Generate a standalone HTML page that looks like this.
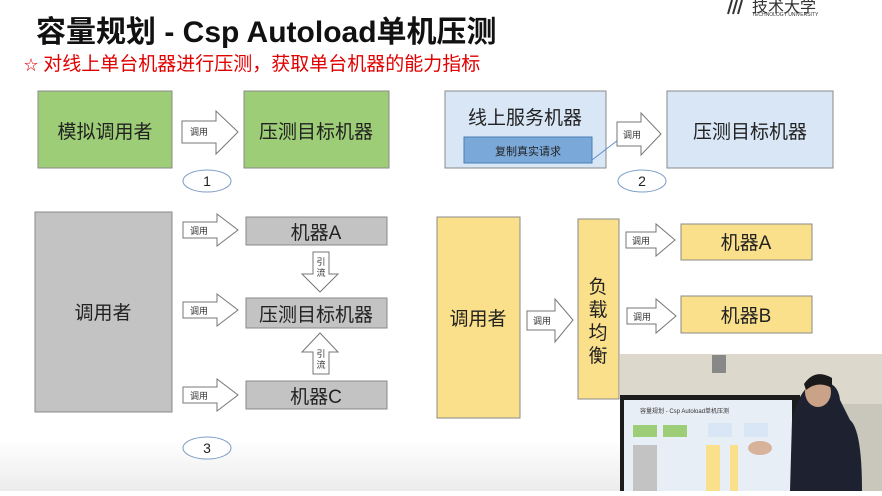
<!DOCTYPE html>
<html><head><meta charset="utf-8"><style>
body{margin:0;width:882px;height:491px;overflow:hidden;background:#fff;font-family:"Liberation Sans","Noto Sans CJK SC",sans-serif}
</style></head><body>
<svg width="882" height="491" viewBox="0 0 882 491" xmlns="http://www.w3.org/2000/svg" font-family="Liberation Sans, Noto Sans CJK SC, sans-serif">
<defs><linearGradient id="bg" x1="0" y1="0" x2="0" y2="1"><stop offset="0" stop-color="#fff"/><stop offset="1" stop-color="#ececec"/></linearGradient></defs>
<rect x="0" y="440" width="882" height="51" fill="url(#bg)"/>
<text x="36" y="42" font-size="30" font-weight="bold" fill="#111">容量规划 - Csp Autoload单机压测</text>
<text x="24" y="70" font-size="19" fill="#e00000"><tspan font-size="14">☆</tspan> 对线上单台机器进行压测，获取单台机器的能力指标</text>
<text x="752" y="12" font-size="16" fill="#333">技术大学</text>
<path d="M732 0 L728 14 M737 0 L733 14 M742 0 L738 14" stroke="#333" stroke-width="2"/>
<text x="752" y="16" font-size="5" fill="#333">TECHNOLOGY UNIVERSITY</text>

<g stroke="#8a8a8a" stroke-width="1">
<rect x="38" y="91" width="134" height="77" fill="#9dcd76"/>
<rect x="244" y="91" width="145" height="77" fill="#9dcd76"/>
<rect x="445" y="91" width="161" height="77" fill="#d9e6f5"/>
<rect x="464" y="137" width="128" height="26" fill="#7aa8d8" stroke="#4b7fb5"/>
<rect x="667" y="91" width="166" height="77" fill="#d9e6f5"/>
<rect x="35" y="212" width="137" height="200" fill="#c3c3c3"/>
<rect x="246" y="217" width="141" height="28" fill="#c3c3c3"/>
<rect x="246" y="298" width="141" height="30" fill="#c3c3c3"/>
<rect x="246" y="381" width="141" height="28" fill="#c3c3c3"/>
<rect x="437" y="217" width="83" height="201" fill="#fbe08b"/>
<rect x="578" y="219" width="41" height="180" fill="#fbe08b"/>
<rect x="681" y="224" width="131" height="36" fill="#fbe08b"/>
<rect x="681" y="296" width="131" height="37" fill="#fbe08b"/>
</g>
<line x1="592" y1="160" x2="618" y2="140" stroke="#5b8fd0" stroke-width="1"/>

<g fill="#fff" stroke="#777" stroke-width="1">
<polygon points="182,121 216,121 216,111 238,132 216,154 216,143 182,143"/>
<polygon points="617,122 641,122 641,113 661,134 641,155 641,146 617,146"/>
<polygon points="183,222 217,222 217,214 238,230 217,246 217,238 183,238"/>
<polygon points="183,302 217,302 217,294 238,310 217,326 217,318 183,318"/>
<polygon points="183,387 217,387 217,379 238,395 217,411 217,403 183,403"/>
<polygon points="527,311 555,311 555,299 573,320 555,342 555,330 527,330"/>
<polygon points="626,232 656,232 656,224 675,240 656,256 656,248 626,248"/>
<polygon points="627,308 656,308 656,299 676,316 656,333 656,324 627,324"/>
<polygon points="313,252 329,252 329,274 338,274 320,292 302,274 313,274"/>
<polygon points="313,374 329,374 329,352 338,352 320,333 302,352 313,352"/>
</g>
<g font-size="9" fill="#333" text-anchor="middle">
<text x="199" y="135">调用</text><text x="632" y="138">调用</text>
<text x="199" y="234">调用</text><text x="199" y="314">调用</text><text x="199" y="399">调用</text>
<text x="542" y="324">调用</text><text x="641" y="244">调用</text><text x="642" y="320">调用</text>
<text x="321" y="265">引</text><text x="321" y="276">流</text>
<text x="321" y="357">引</text><text x="321" y="368">流</text>
</g>
<g font-size="19" fill="#222" text-anchor="middle">
<text x="105" y="138">模拟调用者</text>
<text x="316" y="138">压测目标机器</text>
<text x="525" y="124">线上服务机器</text>
<text x="750" y="138">压测目标机器</text>
<text x="103" y="319">调用者</text>
<text x="316" y="239">机器A</text>
<text x="316" y="321">压测目标机器</text>
<text x="316" y="403">机器C</text>
<text x="478" y="325">调用者</text>
<text x="746" y="249">机器A</text>
<text x="746" y="322">机器B</text>
<text x="598" y="293">负</text><text x="598" y="316">载</text><text x="598" y="339">均</text><text x="598" y="362">衡</text>
</g>
<text x="528" y="155" font-size="11" fill="#222" text-anchor="middle">复制真实请求</text>
<g fill="#fff" stroke="#7f9fc8" stroke-width="1">
<ellipse cx="207" cy="181" rx="24" ry="11"/>
<ellipse cx="642" cy="181" rx="24" ry="11"/>
<ellipse cx="207" cy="448" rx="24" ry="11"/>
</g>
<g font-size="14" fill="#222" text-anchor="middle">
<text x="207" y="186">1</text><text x="642" y="186">2</text><text x="207" y="453">3</text>
</g>

<!-- video inset -->
<rect x="620" y="354" width="262" height="137" fill="#c9c6bc"/>
<rect x="620" y="354" width="262" height="50" fill="#ddd8cc"/>
<rect x="712" y="355" width="14" height="18" fill="#888"/>
<rect x="620" y="395" width="180" height="96" fill="#1c1c1c"/>
<rect x="624" y="400" width="168" height="91" fill="#e8eef6"/>
<text x="640" y="413" font-size="6" fill="#333">容量规划 - Csp Autoload单机压测</text>
<rect x="633" y="425" width="24" height="12" fill="#9dcd76"/>
<rect x="663" y="425" width="24" height="12" fill="#9dcd76"/>
<rect x="708" y="423" width="24" height="14" fill="#d9e6f5"/>
<rect x="744" y="423" width="24" height="14" fill="#d9e6f5"/>
<rect x="633" y="445" width="24" height="46" fill="#c3c3c3"/>
<rect x="706" y="445" width="14" height="46" fill="#fbe08b"/>
<rect x="730" y="445" width="8" height="46" fill="#fbe08b"/>
<path d="M790 491 L792 420 Q800 385 818 382 Q838 380 840 400 L850 420 Q862 430 862 491 Z" fill="#1e2230"/>
<ellipse cx="818" cy="392" rx="13" ry="15" fill="#c9a288"/>
<path d="M804 384 Q815 368 832 378 L832 388 Q818 380 806 390 Z" fill="#1a1a1a"/>
<ellipse cx="760" cy="448" rx="12" ry="7" fill="#d6b39a"/>
</svg>
</body></html>
